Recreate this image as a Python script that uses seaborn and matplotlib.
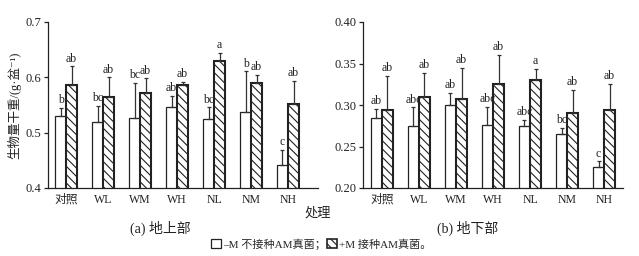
import matplotlib
matplotlib.use("Agg")
import matplotlib.pyplot as plt
import matplotlib.patches as mpatches
from matplotlib.container import BarContainer
import seaborn as sns
import pandas as pd
import numpy as np

# ---------------- data ----------------
treatments = ["对照", "WL", "WM", "WH", "NL", "NM", "NH"]
groups = ["-M", "+M"]
legend_labels = ["–M 不接种AM真菌；", "+M 接种AM真菌。"]

# (a) above-ground
above_minus = [0.530, 0.520, 0.527, 0.547, 0.525, 0.537, 0.441]
above_minus_err = [0.015, 0.028, 0.063, 0.020, 0.021, 0.074, 0.028]
above_plus = [0.586, 0.565, 0.571, 0.586, 0.630, 0.590, 0.551]
above_plus_err = [0.034, 0.035, 0.027, 0.006, 0.014, 0.015, 0.043]
above_minus_sig = ["b", "bc", "bc", "ab", "bc", "b", "c"]
above_plus_sig = ["ab", "ab", "ab", "ab", "a", "ab", "ab"]

# (b) below-ground
below_minus = [0.284, 0.275, 0.300, 0.2765, 0.275, 0.2647, 0.225]
below_minus_err = [0.0116, 0.022, 0.0145, 0.021, 0.007, 0.0078, 0.007]
below_plus = [0.2935, 0.310, 0.307, 0.325, 0.330, 0.290, 0.2935]
below_plus_err = [0.0415, 0.029, 0.0375, 0.0357, 0.0137, 0.0286, 0.032]
below_minus_sig = ["ab", "abc", "ab", "abc", "abc", "bc", "c"]
below_plus_sig = ["ab", "ab", "ab", "ab", "a", "ab", "ab"]

ylabel = "生物量干重/(g·盆⁻¹)"
xlabel = "处理"
titles = ["(a) 地上部", "(b) 地下部"]

# ---------------- style ----------------
sns.set_theme(style="ticks")
FAM = ["Liberation Serif", "Noto Sans CJK SC", "DejaVu Serif"]
plt.rcParams["font.family"] = FAM
plt.rcParams["hatch.linewidth"] = 0.8
plt.rcParams["hatch.color"] = "#222222"
INK = "#222222"
FS = 8.5

fig = plt.figure(figsize=(6.39, 2.56), dpi=100)
axA = fig.add_axes([48 / 639, 68 / 256, 270 / 639, 166 / 256])
axB = fig.add_axes([363 / 639, 68 / 256, 260 / 639, 166 / 256])


def panel(ax, minus, minus_err, plus, plus_err, msig, psig, ylim, yticks, fmt, xlim):
    df = pd.DataFrame({
        "treatment": treatments * 2,
        "group": [groups[0]] * len(treatments) + [groups[1]] * len(treatments),
        "value": list(minus) + list(plus),
    })
    sns.barplot(data=df, x="treatment", y="value", hue="group", order=treatments,
                hue_order=groups, palette=["white", "white"], width=0.6, gap=0,
                errorbar=None, edgecolor=INK, linewidth=0.9, ax=ax, legend=False)
    errs = [minus_err, plus_err]
    sigs = [msig, psig]
    vals = [minus, plus]
    bar_conts = [c for c in ax.containers if isinstance(c, BarContainer)]
    for ci, cont in enumerate(bar_conts):
        for bi, p in enumerate(cont.patches):
            if ci == 1:
                p.set_hatch("\\\\\\\\")
                p.set_linewidth(1.5)
            xc = p.get_x() + p.get_width() / 2
            v = vals[ci][bi]
            e = errs[ci][bi]
            ax.errorbar([xc], [v], yerr=[[0], [e]], fmt="none", ecolor="#333333",
                        elinewidth=0.9, capsize=1.6, capthick=0.9, zorder=1)
            ax.annotate(sigs[ci][bi], (xc, v + e), xytext=(0, 1.2),
                        textcoords="offset points", ha="center", va="bottom",
                        fontsize=FS, family=FAM, color=INK)
    ax.set_ylim(*ylim)
    ax.set_xlim(*xlim)
    ax.set_yticks(yticks)
    ax.set_yticklabels([fmt.format(t) for t in yticks], fontsize=FS + 0.5, family=FAM)
    ax.set_xticks(range(len(treatments)))
    ax.set_xticklabels(treatments, fontsize=FS, family=FAM)
    ax.tick_params(axis="x", length=0, pad=4, colors=INK)
    ax.tick_params(axis="y", length=3, width=0.9, pad=2, colors=INK, direction="out")
    ax.set_xlabel("")
    ax.set_ylabel("")
    for s in ["top", "right"]:
        ax.spines[s].set_visible(False)
    for s in ["left", "bottom"]:
        ax.spines[s].set_linewidth(0.9)
        ax.spines[s].set_color(INK)
    ax.set_facecolor("white")


panel(axA, above_minus, above_minus_err, above_plus, above_plus_err,
      above_minus_sig, above_plus_sig, (0.4, 0.7), [0.4, 0.5, 0.6, 0.7], "{:.1f}", (-0.49, 6.81))
panel(axB, below_minus, below_minus_err, below_plus, below_plus_err,
      below_minus_sig, below_plus_sig, (0.2, 0.4), [0.20, 0.25, 0.30, 0.35, 0.40], "{:.2f}", (-0.51, 6.51))

axA.set_ylabel(ylabel, fontsize=9, family=FAM, labelpad=3, color=INK)

fig.text(318 / 639, 1 - 213 / 256, xlabel, ha="center", va="center", fontsize=9.5, family=FAM, color=INK)
fig.text(160 / 639, 1 - 228 / 256, titles[0], ha="center", va="center", fontsize=10, family=FAM, color=INK)
fig.text(468 / 639, 1 - 228 / 256, titles[1], ha="center", va="center", fontsize=10, family=FAM, color=INK)

h0 = mpatches.Patch(facecolor="white", edgecolor=INK, linewidth=0.9)
h1 = mpatches.Patch(facecolor="white", edgecolor=INK, linewidth=1.2, hatch="\\\\\\\\")
leg = fig.legend([h0, h1], legend_labels, loc="center", bbox_to_anchor=(321 / 639, 1 - 244 / 256),
                 ncol=2, frameon=False, handlelength=0.9, handleheight=0.9,
                 handletextpad=0.2, columnspacing=0.1, borderaxespad=0,
                 prop={"family": FAM, "size": 8})

fig.savefig("out.png", dpi=100, facecolor="white")
